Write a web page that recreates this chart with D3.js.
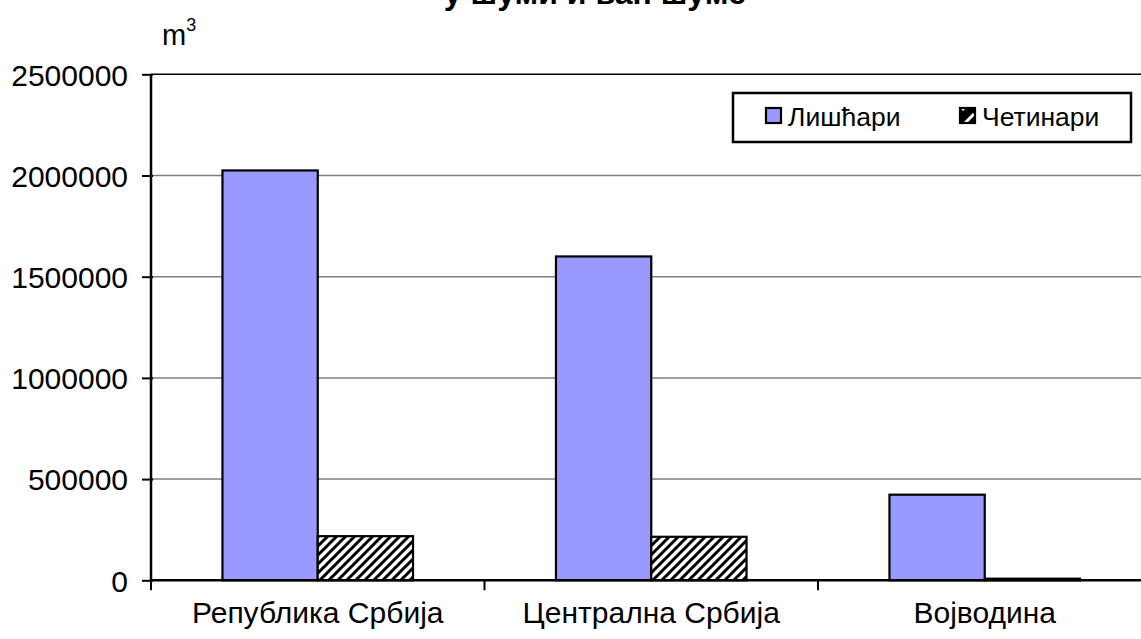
<!DOCTYPE html>
<html><head><meta charset="utf-8">
<script src="https://cdn.jsdelivr.net/npm/d3@7"></script>
<style>html,body{margin:0;padding:0;background:#fff;overflow:hidden}</style>
</head><body>
<svg id="c" width="1141" height="639"></svg>
<script>
const categories = ["Република Србија", "Централна Србија", "Војводина"];
const seriesNames = ["Лишћари", "Четинари"];
const deciduous = [2025000, 1600000, 423000];
const coniferous = [218000, 215000, 8000];
const yTicks = [0, 500000, 1000000, 1500000, 2000000, 2500000];
const titleText = "у шуми и ван шуме";
const unitText = "m";

(function(){
const svg = d3.select("#c");
const font = "'Liberation Sans', Arial, sans-serif";
const defs = svg.append("defs");
const pat = defs.append("pattern").attr("id","hatch").attr("patternUnits","userSpaceOnUse")
  .attr("width",9).attr("height",9);
pat.append("rect").attr("width",9).attr("height",9).attr("fill","#fff");
pat.append("path").attr("d","M-1,10 L10,-1 M-3,3 L3,-3 M6,12 L12,6").attr("stroke","#000").attr("stroke-width",3);
const patL = defs.append("pattern").attr("id","hatchL").attr("patternUnits","userSpaceOnUse")
  .attr("width",16).attr("height",16);
patL.append("rect").attr("width",16).attr("height",16).attr("fill","#000");
patL.append("path").attr("d","M2,14 L14,2").attr("stroke","#fff").attr("stroke-width",3);

const pLeft = 151, pRight = 1151.5, pTop = 74.3, pBottom = 580.3;
const x = d3.scaleBand().domain(categories).range([pLeft, pRight]).paddingInner(0).paddingOuter(0);
const x1 = d3.scaleBand().domain(seriesNames).range([0, x.bandwidth()]).paddingInner(0).paddingOuter(0.75);
const y = d3.scaleLinear().domain([0, 2500000]).range([pBottom, pTop]);

// gridlines
svg.append("g").selectAll("line").data(yTicks.filter(d=>d>0)).join("line")
  .attr("x1", pLeft).attr("x2", 1141).attr("y1", d=>y(d)).attr("y2", d=>y(d))
  .attr("stroke", d=> d===2500000 ? "#000" : "#808080").attr("stroke-width", 1.5);

// bars
const data = categories.map((c,i)=>({c, vals:[{s:seriesNames[0], v:deciduous[i]},{s:seriesNames[1], v:coniferous[i]}]}));
const g = svg.append("g");
data.forEach(d=>{
  d.vals.forEach(e=>{
    g.append("rect")
      .attr("x", x(d.c)+x1(e.s)).attr("width", x1.bandwidth())
      .attr("y", y(e.v)).attr("height", y(0)-y(e.v))
      .attr("fill", e.s===seriesNames[0] ? "#9999ff" : "url(#hatch)")
      .attr("stroke","#000").attr("stroke-width",2.2);
  });
});

// y axis
const ya = svg.append("g").attr("transform",`translate(${pLeft},0)`)
  .call(d3.axisLeft(y).tickValues(yTicks).tickSize(9).tickPadding(14).tickFormat(d3.format("d")));
ya.select(".domain").attr("stroke","#000").attr("stroke-width",2.5).attr("d",`M0,${pTop}V${pBottom}`);
ya.selectAll(".tick line").attr("stroke","#000").attr("stroke-width",2).attr("x1",2);
ya.selectAll(".tick text").attr("font-family",font).attr("font-size",30).attr("fill","#000").attr("dy","0.36em");

// x axis
svg.append("line").attr("x1",pLeft).attr("x2",1141).attr("y1",pBottom).attr("y2",pBottom).attr("stroke","#000").attr("stroke-width",2.5);
const bounds = [pLeft, ...categories.map(c=>x(c)+x.bandwidth())];
svg.append("g").selectAll("line").data(bounds).join("line")
  .attr("x1",d=>d).attr("x2",d=>d).attr("y1",pBottom).attr("y2",pBottom+10)
  .attr("stroke","#000").attr("stroke-width",2);
svg.append("g").selectAll("text").data(categories).join("text")
  .attr("x", d=>x(d)+x.bandwidth()/2).attr("y", 623)
  .attr("text-anchor","middle").attr("font-family",font).attr("font-size",30).attr("fill","#000")
  .text(d=>d);

// unit label
const u = svg.append("text").attr("x",162).attr("y",45).attr("font-family",font).attr("font-size",29).attr("fill","#000");
u.append("tspan").text(unitText);
u.append("tspan").attr("dy",-14).attr("font-size",18).text("3");

// title (cut off at top, as in the reference)
svg.append("text").attr("x",595).attr("y",4).attr("text-anchor","middle")
  .attr("font-family",font).attr("font-weight","bold").attr("font-size",32).attr("fill","#000").text(titleText);

// legend
const lg = svg.append("g");
lg.append("rect").attr("x",733).attr("y",93).attr("width",398).attr("height",49)
  .attr("fill","#fff").attr("stroke","#000").attr("stroke-width",2.5);
const items = [{s:seriesNames[0], fill:"#9999ff", x:766},{s:seriesNames[1], fill:"url(#hatchL)", x:960}];
items.forEach(it=>{
  lg.append("rect").attr("x",it.x).attr("y",108).attr("width",15).attr("height",15)
    .attr("fill",it.fill).attr("stroke","#000").attr("stroke-width",2.2);
  lg.append("text").attr("x",it.x+22).attr("y",126).attr("font-family",font).attr("font-size",26.5)
    .attr("fill","#000").text(it.s);
});
})();
</script>
</body></html>
